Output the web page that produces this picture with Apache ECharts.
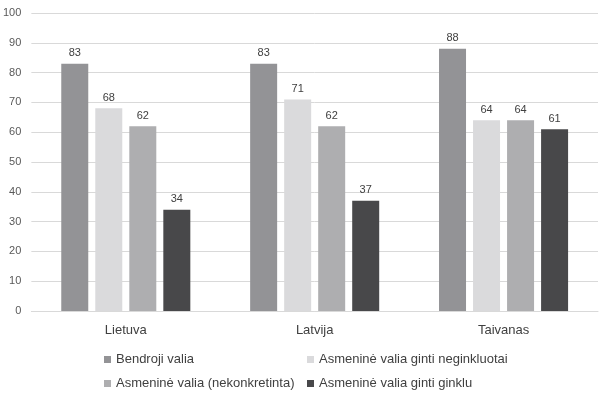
<!DOCTYPE html>
<html>
<head>
<meta charset="utf-8">
<script src="https://cdn.jsdelivr.net/npm/echarts@6/dist/echarts.min.js"></script>
<style>html,body{margin:0;padding:0;background:#fff}#c{width:599px;height:395px}</style>
</head>
<body>
<div id="c"></div>
<script>
const categories = ['Lietuva', 'Latvija', 'Taivanas'];
const seriesNames = ['Bendroji valia', 'Asmeninė valia ginti neginkluotai', 'Asmeninė valia (nekonkretinta)', 'Asmeninė valia ginti ginklu'];
const bendroji = [83, 83, 88];
const neginkluotai = [68, 71, 64];
const nekonkretinta = [62, 62, 64];
const ginklu = [34, 37, 61];
const colors = ['#939396', '#dadadc', '#aeaeb0', '#48484a'];

const values = [bendroji, neginkluotai, nekonkretinta, ginklu];
const font = 'Liberation Sans';
const legendPos = [
  {left: 104, top: 353},
  {left: 307, top: 353},
  {left: 104, top: 377},
  {left: 307, top: 377}
];

const chart = echarts.init(document.getElementById('c'));
chart.setOption({
  animation: false,
  textStyle: {fontFamily: font},
  grid: {left: 31, right: 1, top: 13, bottom: 84, containLabel: false},
  legend: seriesNames.map((n, i) => ({
    data: [n],
    left: legendPos[i].left,
    top: legendPos[i].top,
    icon: 'rect',
    itemWidth: 7,
    itemHeight: 7,
    itemGap: 0,
    padding: 0,
    selectedMode: false,
    textStyle: {fontFamily: font, fontSize: 13, color: '#404040'}
  })),
  xAxis: {
    type: 'category',
    data: categories,
    axisLine: {show: true, lineStyle: {color: '#d9d9d9'}},
    axisTick: {show: false},
    axisLabel: {color: '#404040', fontSize: 13, margin: 13, fontFamily: font}
  },
  yAxis: {
    type: 'value',
    min: 0, max: 100, interval: 10,
    axisLine: {show: false},
    axisTick: {show: false},
    splitLine: {lineStyle: {color: '#d9d9d9', width: 1}},
    axisLabel: {color: '#595959', fontSize: 11, margin: 10, fontFamily: font}
  },
  series: seriesNames.map((n, i) => ({
    name: n,
    type: 'bar',
    data: values[i],
    barWidth: 27,
    barGap: '26%',
    itemStyle: {color: colors[i]},
    label: {show: true, position: 'top', distance: 5, color: '#404040', fontSize: 11, fontFamily: font}
  }))
});
</script>
</body>
</html>
